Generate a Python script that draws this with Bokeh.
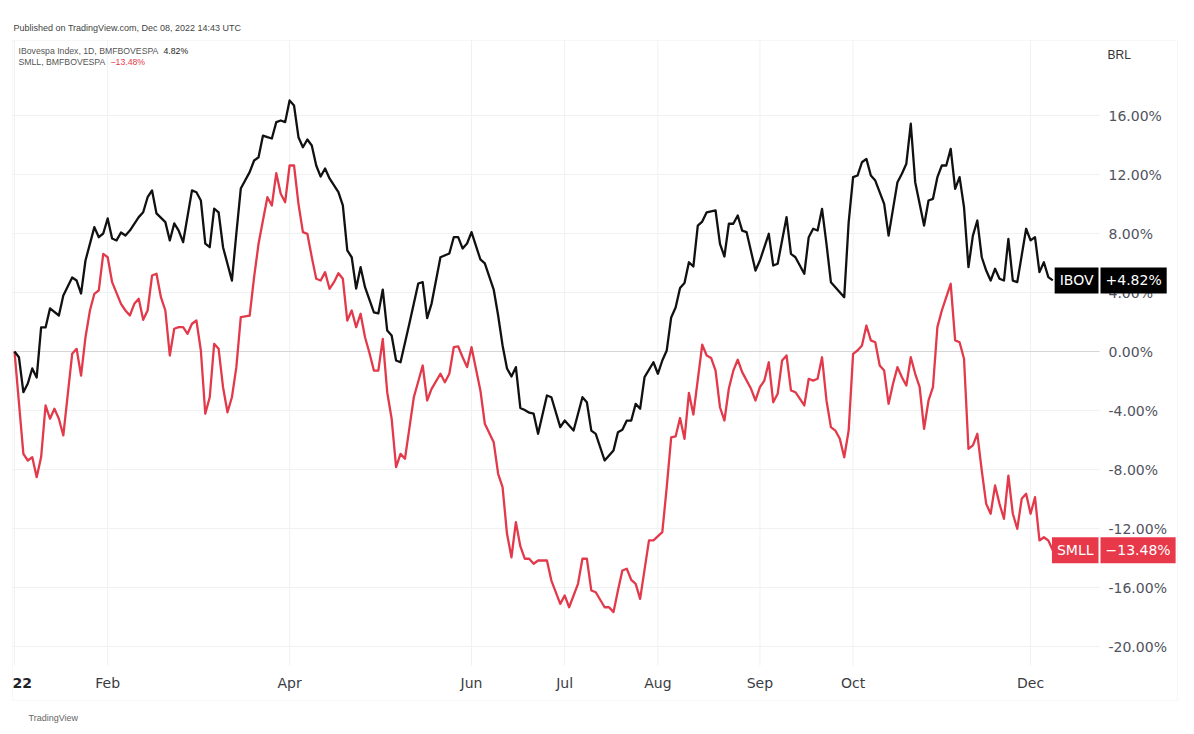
import pandas as pd
from bokeh.plotting import figure
from bokeh.models import Range1d, Label, BoxAnnotation, ColumnDataSource
from bokeh.core.properties import value
from bokeh.embed import file_html
from bokeh.resources import INLINE

# ---------------- data ----------------
first_session = "2022-01-03"
last_session = "2022-12-08"
b3_holidays = ["2022-02-28", "2022-03-01", "2022-04-15", "2022-04-21", "2022-06-16",
               "2022-09-07", "2022-10-12", "2022-11-02", "2022-11-15"]

month_keys = ["2022-01", "2022-02", "2022-04", "2022-06", "2022-07", "2022-08", "2022-09", "2022-10", "2022-12"]
month_labels = ["22", "Feb", "Apr", "Jun", "Jul", "Aug", "Sep", "Oct", "Dec"]

y_ticks = [-20, -16, -12, -8, -4, 0, 4, 8, 12, 16]

# session number (0 = 2022-01-03) and % change since start
ibov_day = [0, 1, 2, 3, 4, 5, 6, 7, 8, 10, 11, 13, 14, 15, 16, 18, 19, 20, 21, 22, 23, 24, 25, 26, 28, 29,
            30, 31, 32, 34, 35, 36, 37, 38, 40, 41, 42, 43, 44, 45, 46, 47, 49, 50, 51, 53, 54, 55, 56, 57,
            58, 59, 60, 61, 62, 63, 64, 65, 66, 67, 68, 69, 70, 71, 73, 74, 75, 76, 77, 78, 79, 81, 82, 83,
            84, 85, 86, 87, 89, 91, 92, 93, 94, 96, 98, 99, 100, 101, 102, 103, 105, 106, 108, 109, 110,
            111, 112, 113, 114, 115, 116, 117, 118, 120, 121, 123, 124, 126, 128, 129, 130, 131, 133, 135,
            136, 137, 138, 139, 140, 141, 142, 144, 145, 146, 147, 148, 149, 150, 151, 152, 153, 154, 155,
            156, 158, 159, 160, 161, 162, 163, 164, 165, 167, 168, 170, 171, 172, 174, 175, 176, 178, 179,
            180, 181, 182, 183, 184, 185, 187, 188, 189, 190, 191, 192, 193, 194, 196, 197, 199, 200, 201,
            202, 203, 205, 206, 207, 208, 209, 210, 211, 212, 213, 214, 215, 216, 217, 218, 219, 220, 221,
            222, 223, 224, 225, 226, 228, 229, 230, 231, 232, 233, 234]
ibov_pct = [0.00, -0.39, -2.76, -2.17, -1.15, -1.76, 1.63, 1.63, 2.92, 2.44, 3.80, 5.02, 4.81, 3.93, 6.17,
            8.43, 7.75, 8.00, 9.02, 7.66, 7.53, 8.07, 7.86, 8.20, 9.11, 9.44, 10.46, 10.92, 9.36, 8.77, 7.53,
            8.68, 8.20, 7.41, 10.92, 10.80, 10.24, 7.32, 7.07, 9.69, 9.44, 7.07, 4.81, 8.00, 11.05, 12.16,
            12.95, 13.17, 14.64, 14.53, 14.44, 15.55, 15.66, 15.55, 17.02, 16.68, 14.53, 13.85, 14.37, 13.97,
            12.61, 11.86, 12.41, 11.73, 10.80, 9.90, 6.85, 6.39, 4.27, 5.72, 4.36, 2.66, 2.58, 4.20, 1.42,
            1.08, -0.61, -0.73, 1.90, 4.61, 4.70, 2.26, 3.25, 6.39, 6.64, 7.75, 7.75, 6.98, 7.32, 8.09, 6.24,
            5.97, 4.20, 2.44, 0.41, -1.15, -1.69, -1.06, -3.83, -3.97, -4.15, -4.22, -5.58, -2.98, -3.10,
            -5.13, -4.68, -5.36, -3.10, -3.44, -5.36, -5.58, -7.39, -6.71, -5.47, -5.31, -4.68, -4.68, -3.55,
            -3.88, -1.74, -0.73, -1.51, -0.61, 0.07, 2.31, 2.98, 4.31, 4.64, 6.05, 5.76, 8.54, 8.81, 9.44,
            9.56, 7.30, 6.44, 8.66, 8.66, 9.22, 8.20, 8.09, 5.49, 6.17, 7.98, 5.83, 5.95, 9.11, 6.62, 6.39,
            5.27, 7.75, 8.32, 8.20, 9.67, 7.30, 4.70, 4.36, 3.68, 8.75, 11.82, 11.93, 12.83, 13.06, 11.93,
            11.59, 10.01, 7.86, 11.48, 12.05, 12.73, 15.44, 11.48, 8.54, 10.24, 10.35, 11.82, 12.61, 12.61,
            13.74, 11.03, 11.82, 9.78, 5.72, 7.86, 8.88, 6.39, 5.49, 4.81, 5.61, 4.93, 4.81, 7.64, 4.81, 4.70,
            8.32, 7.53, 7.75, 5.38, 6.05, 5.04, 4.82]

smll_day = [0, 2, 3, 4, 5, 6, 7, 8, 9, 10, 11, 13, 14, 15, 16, 17, 18, 19, 20, 21, 22, 24, 25, 26, 27, 28,
            29, 30, 31, 32, 33, 34, 35, 36, 37, 38, 39, 40, 41, 42, 43, 44, 45, 46, 47, 48, 49, 50, 51, 53,
            54, 55, 56, 57, 58, 59, 60, 61, 62, 63, 64, 65, 66, 67, 68, 69, 70, 71, 72, 73, 74, 75, 76, 77,
            78, 79, 80, 81, 82, 83, 84, 85, 86, 87, 88, 89, 90, 92, 93, 94, 96, 97, 98, 99, 100, 101, 102,
            103, 105, 106, 108, 109, 110, 111, 112, 113, 114, 115, 116, 117, 118, 120, 121, 123, 124, 125,
            127, 128, 129, 130, 131, 133, 134, 135, 136, 137, 138, 139, 140, 141, 143, 144, 146, 147, 148,
            149, 150, 151, 152, 153, 155, 156, 157, 158, 159, 160, 161, 162, 163, 164, 166, 167, 168, 169,
            170, 171, 172, 173, 174, 175, 176, 178, 179, 180, 181, 182, 183, 184, 185, 186, 187, 188, 189,
            190, 191, 192, 193, 194, 195, 196, 197, 198, 199, 200, 201, 202, 203, 204, 205, 206, 207, 208,
            209, 210, 211, 212, 213, 214, 215, 216, 217, 218, 219, 220, 221, 222, 223, 224, 225, 226, 227,
            228, 229, 230, 231, 232, 233, 234]
smll_pct = [0.00, -6.94, -7.39, -7.16, -8.52, -7.16, -3.66, -4.56, -3.88, -4.56, -5.69, -0.16, 0.18, -1.63,
            0.97, 2.78, 3.91, 4.14, 6.62, 6.39, 4.70, 3.23, 2.78, 2.44, 3.23, 3.57, 2.15, 2.78, 5.15, 5.27,
            3.68, 2.78, -0.27, 1.54, 1.65, 1.65, 1.20, 1.88, 2.10, 0.07, -4.22, -3.10, 0.52, 0.18, -2.42,
            -4.12, -3.10, -1.06, 2.33, 2.44, 5.04, 7.30, 8.90, 10.46, 9.90, 12.09, 10.69, 10.12, 12.61, 12.61,
            10.01, 8.09, 7.98, 6.40, 4.93, 4.81, 5.38, 4.25, 4.70, 5.31, 4.93, 2.10, 2.78, 1.65, 2.56, 0.97,
            -0.10, -1.29, -1.29, 0.86, -2.76, -4.56, -7.84, -6.94, -7.27, -5.20, -3.10, -0.95, -3.32, -2.53,
            -1.51, -2.08, -1.51, 0.29, 0.34, -0.39, -1.06, 0.29, -2.64, -4.90, -6.15, -8.29, -9.20, -12.36,
            -13.95, -11.57, -13.20, -14.05, -14.05, -14.39, -14.17, -14.17, -15.53, -17.11, -16.54, -17.34,
            -15.75, -14.05, -14.05, -16.20, -16.32, -17.34, -17.34, -17.67, -16.20, -14.85, -14.73, -15.48,
            -15.75, -16.77, -12.81, -12.81, -12.25, -9.20, -5.83, -5.76, -4.51, -5.92, -2.81, -4.27, 0.47,
            -0.27, -0.44, -1.29, -3.78, -4.68, -2.51, -1.30, -0.56, -1.40, -2.53, -3.32, -2.42, -1.97, -0.73,
            -3.44, -2.87, -0.61, -0.27, -2.64, -2.76, -3.66, -1.85, -1.97, -1.85, -0.39, -3.32, -5.13, -5.36,
            -5.92, -7.17, -5.36, -0.16, 0.07, 0.41, 1.76, 0.75, 0.63, -0.95, -1.29, -3.55, -2.19, -1.06,
            -1.74, -2.31, -0.39, -1.51, -2.42, -5.24, -3.32, -2.42, 1.65, 2.78, 3.68, 4.59, 0.75, 0.63, -0.49,
            -6.60, -6.37, -5.58, -8.07, -10.33, -11.00, -9.08, -10.33, -11.34, -8.41, -11.00, -12.02, -9.99,
            -9.65, -11.00, -9.88, -12.81, -12.59, -12.81, -13.48]

# ---------------- calendar -> tick positions ----------------
sessions = pd.bdate_range(first_session, last_session)
sessions = sessions[~sessions.isin(pd.to_datetime(b3_holidays))]
keys = list(sessions.strftime("%Y-%m"))
month_idx = [keys.index(k) for k in month_keys]

# ---------------- layout (pixels on the page) ----------------
W, H = 1190, 730
PPX, PPY = 4.437, 14.75          # px per session, px per percent
X_PX0, Y_PX0 = 14.0, 351.0       # page position of session 0 / 0 %
PANE_L, PANE_R, PANE_T, PANE_B = 12, 1099, 40, 665
BOX_R, BOX_B = 1177, 700


def dx(px):
    return (px - X_PX0) / PPX


def dy(py):
    return (Y_PX0 - py) / PPY


BLACK = "#111111"
RED = "#e23a4b"
TAG_RED = "#e8394a"
GRID = "#f0f1f3"
TXT = "#50535e"
SANS = "DejaVu Sans"
SMALL = "Liberation Sans"

p = figure(width=W, height=H,
           x_range=Range1d(dx(0), dx(W)), y_range=Range1d(dy(H), dy(0)),
           output_backend="svg", toolbar_location=None,
           x_axis_location=None, y_axis_location=None, min_border=0)
p.min_border_left = p.min_border_right = p.min_border_top = p.min_border_bottom = 0
p.background_fill_color = "white"
p.border_fill_color = "white"
p.outline_line_color = None
p.grid.visible = False

# chart container border
p.add_layout(BoxAnnotation(left=dx(PANE_L), right=dx(BOX_R), top=dy(PANE_T), bottom=dy(BOX_B),
                           fill_color=None, line_color="#e3e5ea", line_width=1))

# grid lines
n_y = len(y_ticks)
p.segment(x0=[dx(PANE_L)] * n_y, x1=[dx(PANE_R)] * n_y, y0=y_ticks, y1=y_ticks,
          line_color=GRID, line_width=1)
n_x = len(month_idx)
p.segment(x0=month_idx, x1=month_idx, y0=[dy(PANE_T)] * n_x, y1=[dy(PANE_B)] * n_x,
          line_color=GRID, line_width=1)
p.segment(x0=[dx(PANE_L)], x1=[dx(PANE_R)], y0=[0], y1=[0], line_color="#d4d6da", line_width=1)

# price scale labels
ysrc = ColumnDataSource(dict(x=[dx(1108)] * n_y, y=y_ticks, t=[f"{t:.2f}%" for t in y_ticks]))
p.text("x", "y", text="t", source=ysrc, text_align="left", text_baseline="middle",
       text_font=value(SANS), text_font_size="14px", text_color=TXT)

# time scale labels
xsrc = ColumnDataSource(dict(x=month_idx[1:], y=[dy(682)] * (n_x - 1), t=month_labels[1:]))
p.text("x", "y", text="t", source=xsrc, text_align="center", text_baseline="middle",
       text_font=value(SANS), text_font_size="14px", text_color="#3a3c42")
p.text(x=[dx(PANE_L)], y=[dy(682)], text=[month_labels[0]], text_align="left", text_baseline="middle",
       text_font=value(SANS), text_font_size="14px", text_font_style="bold", text_color="#202226")

# series
src_i = ColumnDataSource(dict(x=ibov_day, y=ibov_pct))
src_s = ColumnDataSource(dict(x=smll_day, y=smll_pct))
p.line("x", "y", source=src_s, line_color=RED, line_width=2.3, line_join="round")
p.line("x", "y", source=src_i, line_color=BLACK, line_width=2.3, line_join="round")


def lbl(px, py, text, size, color, font=SMALL, style="normal"):
    p.add_layout(Label(x=dx(px), y=dy(py), text=text, text_align="left", text_baseline="middle",
                       text_font=font, text_font_size=size, text_color=color, text_font_style=style))


# header, legend, currency, footer
lbl(13, 27.5, "Published on TradingView.com, Dec 08, 2022 14:43 UTC", "9px", "#444444")
lbl(18, 50, "IBovespa Index, 1D, BMFBOVESPA", "8.7px", "#555555")
lbl(163, 50, f"{ibov_pct[-1]:.2f}%", "8.7px", "#222222")
lbl(18, 61.5, "SMLL, BMFBOVESPA", "8.7px", "#555555")
lbl(110, 61.5, f"{smll_pct[-1]:.2f}%".replace("-", "\u2212"), "8.7px", RED)
lbl(1107, 54, "BRL", "12px", "#333333")
lbl(28, 717, "TradingView", "9px", "#666666")


def last_value_tag(name, val, color):
    p.add_layout(Label(x=dx(PANE_R), y=val, text=name, text_align="right", text_baseline="middle",
                       x_offset=-1, text_font=SANS, text_font_size="14px", text_color="white",
                       background_fill_color=color, padding=5))
    p.add_layout(Label(x=dx(PANE_R), y=val, text=f"{val:+.2f}%".replace("-", "\u2212"), text_align="left",
                       text_baseline="middle", x_offset=1, text_font=SANS, text_font_size="14px",
                       text_color="white", background_fill_color=color, padding=5))


last_value_tag("IBOV", ibov_pct[-1], "#000000")
last_value_tag("SMLL", smll_pct[-1], TAG_RED)

open("out.html", "w").write(file_html(p, INLINE))
